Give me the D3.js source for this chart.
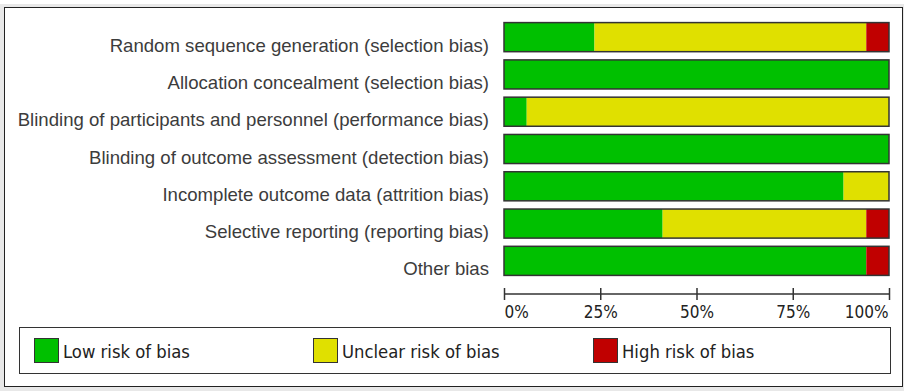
<!DOCTYPE html>
<html><head><meta charset="utf-8">
<script src="https://cdn.jsdelivr.net/npm/d3@7"></script>
<style>html,body{margin:0;padding:0;background:#fff;}svg{display:block;}</style>
</head><body>
<script>
const categories = [
  "Random sequence generation (selection bias)",
  "Allocation concealment (selection bias)",
  "Blinding of participants and personnel (performance bias)",
  "Blinding of outcome assessment (detection bias)",
  "Incomplete outcome data (attrition bias)",
  "Selective reporting (reporting bias)",
  "Other bias"
];
// percentages (17 studies)
const lowRisk     = [23.5, 100, 5.9, 100, 88.2, 41.2, 94.1];
const unclearRisk = [70.6, 0, 94.1, 0, 11.8, 52.9, 0];
const highRisk    = [5.9, 0, 0, 0, 0, 5.9, 5.9];
const seriesNames = ["Low risk of bias", "Unclear risk of bias", "High risk of bias"];
const seriesColors = ["#00c000", "#e0e000", "#c00000"];
const tickValues = [0, 25, 50, 75, 100];
const tickLabels = ["0%", "25%", "50%", "75%", "100%"];

const W = 908, H = 391;
const svg = d3.select("body").append("svg").attr("width", W).attr("height", H);
const condensed = "'DejaVu Sans Condensed', 'DejaVu Sans', Tahoma, sans-serif";

// shadow + frame
svg.append("rect").attr("x", 0).attr("y", 4).attr("width", 904).attr("height", 387).attr("fill", "#e8e8e8");
svg.append("rect").attr("x", 4.5).attr("y", 7.5).attr("width", 898).attr("height", 379)
  .attr("fill", "#fff").attr("stroke", "#222").attr("stroke-width", 1);

const x = d3.scaleLinear().domain([0, 100]).range([504, 889]);
const y = d3.scaleBand().domain(categories).range([18.5, 279.5]).paddingInner(0.22).paddingOuter(0.11);

const stackData = categories.map((c, i) => ({cat: c, low: lowRisk[i], unclear: unclearRisk[i], high: highRisk[i]}));
const stack = d3.stack().keys(["low", "unclear", "high"])(stackData);

const g = svg.append("g");
stack.forEach((layer, k) => {
  g.selectAll(null).data(layer.filter(d => d[1] - d[0] > 0)).enter().append("rect")
    .attr("x", d => x(d[0])).attr("width", d => x(d[1]) - x(d[0]))
    .attr("y", d => y(d.data.cat)).attr("height", y.bandwidth())
    .attr("fill", seriesColors[k]);
});
// outlines
g.selectAll(null).data(categories).enter().append("rect")
  .attr("x", x(0)).attr("width", x(100) - x(0))
  .attr("y", d => y(d)).attr("height", y.bandwidth())
  .attr("fill", "none").attr("stroke", "#333").attr("stroke-width", 1.5);

// category labels
g.selectAll(null).data(categories).enter().append("text")
  .attr("x", 489).attr("y", d => y(d) + y.bandwidth() / 2 + 14.5)
  .attr("text-anchor", "end").attr("fill", "#3c3c3c")
  .style("font-family", "'Liberation Sans', Arial, sans-serif").style("font-size", "18.6px")
  .text(d => d);

// axis
const axis = d3.axisBottom(x).tickValues(tickValues).tickSize(6).tickFormat((d, i) => tickLabels[i]);
const ag = svg.append("g").attr("transform", "translate(0,294)").call(axis);
ag.select(".domain").attr("d", `M${x(0)},0H${x(100)}`).attr("stroke", "#333").attr("stroke-width", 1.5);
ag.selectAll(".tick line").attr("y1", -6).attr("y2", 6).attr("stroke", "#333").attr("stroke-width", 1.5);
ag.selectAll(".tick text").attr("y", 24).attr("dy", null).attr("fill", "#222")
  .style("font-family", condensed).style("font-size", "17px")
  .attr("text-anchor", (d, i) => i === 0 ? "start" : (i === tickValues.length - 1 ? "end" : "middle"))
  .attr("x", (d, i) => i === 0 ? 0 : (i === tickValues.length - 1 ? -1 : 0));

// legend
svg.append("rect").attr("x", 19.5).attr("y", 327.5).attr("width", 871).attr("height", 46)
  .attr("fill", "#fff").attr("stroke", "#333").attr("stroke-width", 1);
const legX = [34, 313, 593];
const lg = svg.selectAll(null).data(seriesNames).enter().append("g")
  .attr("transform", (d, i) => `translate(${legX[i]},338)`);
lg.append("rect").attr("x", 0.5).attr("y", 0.5).attr("width", 24).attr("height", 24)
  .attr("fill", (d, i) => seriesColors[i]).attr("stroke", "#333").attr("stroke-width", 1);
lg.append("text").attr("x", 29).attr("y", 20).attr("fill", "#222")
  .style("font-family", condensed).style("font-size", "18.3px")
  .text(d => d);
</script>
</body></html>
